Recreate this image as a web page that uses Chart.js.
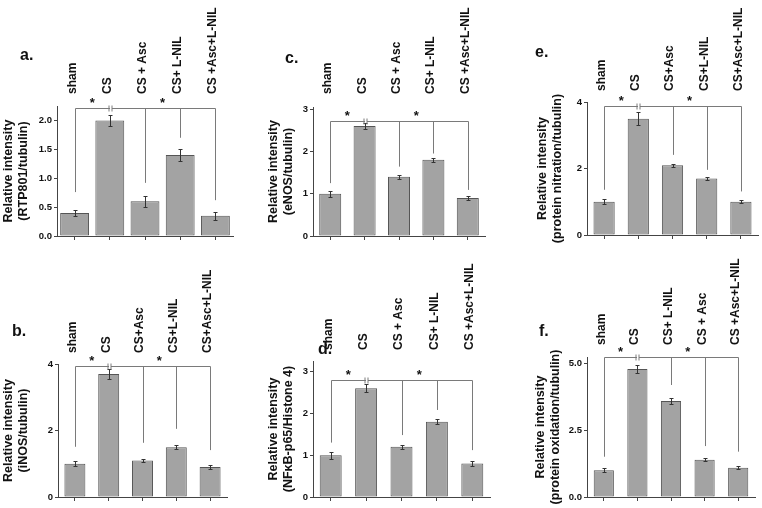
<!DOCTYPE html>
<html><head><meta charset="utf-8">
<script src="https://cdn.jsdelivr.net/npm/chart.js@4.4.1/dist/chart.umd.min.js"></script>
<style>
html,body{margin:0;padding:0;background:#fff}
body{width:762px;height:508px;position:relative;overflow:hidden}
canvas{position:absolute}
</style></head>
<body>
<script>
// ---------- data ----------
const catsA = ['sham','CS','CS + Asc','CS+ L-NIL','CS +Asc+L-NIL'];
const valsA = [0.4, 2.0, 0.6, 1.4, 0.35];
const errsA = [0.05, 0.1, 0.09, 0.1, 0.07];
const dropA = [0.76, null, 0.92, 1.70, 0.62];
const bracketA = 2.22;
const ticksA = [0, 0.5, 1, 1.5, 2];
const tickLabelsA = ['0.0','0.5','1.0','1.5','2.0'];
const titleA = ['Relative intensity','(RTP801/tubulin)'];

const catsB = ['sham','CS','CS+Asc','CS+L-NIL','CS+Asc+L-NIL'];
const valsB = [1.0, 3.7, 1.1, 1.5, 0.9];
const errsB = [0.07, 0.15, 0.05, 0.05, 0.05];
const dropB = [1.51, null, 1.63, 2.05, 1.41];
const bracketB = 3.95;
const ticksB = [0, 2, 4];
const tickLabelsB = ['0','2','4'];
const titleB = ['Relative intensity','(iNOS/tubulin)'];

const catsC = ['sham','CS','CS + Asc','CS+ L-NIL','CS +Asc+L-NIL'];
const valsC = [1.0, 2.6, 1.4, 1.8, 0.9];
const errsC = [0.07, 0.08, 0.05, 0.05, 0.05];
const dropC = [1.25, null, 1.64, 1.95, 1.09];
const bracketC = 2.72;
const ticksC = [0, 1, 2, 3];
const tickLabelsC = ['0','1','2','3'];
const titleC = ['Relative intensity','(eNOS/tubulin)'];

const catsD = ['sham','CS','CS + Asc','CS+ L-NIL','CS +Asc+L-NIL'];
const valsD = [1.0, 2.6, 1.2, 1.8, 0.8];
const errsD = [0.08, 0.1, 0.05, 0.06, 0.05];
const dropD = [1.30, null, 1.48, 2.08, 1.12];
const bracketD = 2.8;
const ticksD = [0, 1, 2, 3];
const tickLabelsD = ['0','1','2','3'];
const titleD = ['Relative intensity','(NF\u03BAB-p65/Histone 4)'];

const catsE = ['sham','CS','CS+Asc','CS+L-NIL','CS+Asc+L-NIL'];
const valsE = [1.0, 3.5, 2.1, 1.7, 1.0];
const errsE = [0.08, 0.2, 0.05, 0.05, 0.05];
const dropE = [1.36, null, 2.41, 1.96, 1.31];
const bracketE = 3.87;
const ticksE = [0, 2, 4];
const tickLabelsE = ['0','2','4'];
const titleE = ['Relative intensity','(protein nitration/tubulin)'];

const catsF = ['sham','CS','CS+ L-NIL','CS + Asc','CS +Asc+L-NIL'];
const valsF = [1.0, 4.8, 3.6, 1.4, 1.1];
const errsF = [0.08, 0.15, 0.12, 0.05, 0.05];
const dropF = [1.51, null, 4.2, 1.91, 1.70];
const bracketF = 5.24;
const ticksF = [0, 2.5, 5];
const tickLabelsF = ['0.0','2.5','5.0'];
const titleF = ['Relative intensity','(protein oxidation/tubulin)'];

// ---------- styling / layout ----------
const FAMILY = "'Liberation Sans', Arial, Helvetica, sans-serif";
Chart.defaults.font.family = FAMILY;
Chart.defaults.color = '#111';

const annot = {
  id: 'annot',
  afterDatasetsDraw(chart, args, o) {
    const ctx = chart.ctx, xs = chart.scales.x, ys = chart.scales.y;
    const ds = chart.data.datasets[0];
    const vals = ds.data, errs = o.errors, n = vals.length;
    const px = i => Math.round(xs.getPixelForValue(i)) + 0.5;
    const line = (x1,y1,x2,y2) => { ctx.beginPath(); ctx.moveTo(x1,y1); ctx.lineTo(x2,y2); ctx.stroke(); };
    ctx.save();
    // error bars
    ctx.strokeStyle = '#333'; ctx.lineWidth = 1;
    vals.forEach((v,i) => {
      const x = px(i);
      const t = Math.round(ys.getPixelForValue(v + errs[i])) + 0.5;
      const b = Math.round(ys.getPixelForValue(v - errs[i])) + 0.5;
      line(x, t, x, b); line(x-2, t, x+2, t); line(x-2, b, x+2, b);
    });
    // significance bracket
    const by = Math.round(ys.getPixelForValue(o.bracket)) + 0.5;
    ctx.strokeStyle = '#7a7a7a';
    line(px(0), by, px(n-1), by);
    o.drops.forEach((d,i) => {
      if (d == null) return;
      line(px(i), by, px(i), ys.getPixelForValue(d));
    });
    // break mark on CS
    const cx = px(1);
    ctx.clearRect(cx-1, by-1.5, 2, 3);
    line(cx-1.5, by-3, cx-1.5, by+3);
    line(cx+1.5, by-3, cx+1.5, by+3);
    // stars
    ctx.fillStyle = '#111';
    ctx.font = "bold 13px " + FAMILY;
    ctx.textAlign = 'center'; ctx.textBaseline = 'alphabetic';
    [[0,1],[2,3]].forEach(([a,b]) => {
      ctx.fillText('*', (xs.getPixelForValue(a) + xs.getPixelForValue(b))/2, by - 2);
    });
    // panel letter
    ctx.font = "bold 16px " + FAMILY;
    ctx.textAlign = 'left';
    ctx.fillText(o.letter, o.lx, o.ly);
    ctx.restore();
  }
};

function panel(p) {
  const cv = document.createElement('canvas');
  cv.width = p.w; cv.height = p.h;
  cv.style.left = p.left + 'px'; cv.style.top = p.top + 'px';
  cv.style.width = p.w + 'px'; cv.style.height = p.h + 'px';
  document.body.appendChild(cv);
  new Chart(cv, {
    type: 'bar',
    data: {
      labels: p.cats,
      datasets: [{
        data: p.vals,
        backgroundColor: '#a3a3a3',
        borderColor: '#555',
        borderWidth: 1,
        borderSkipped: false,
        barPercentage: p.bar,
        categoryPercentage: 1
      }]
    },
    options: {
      responsive: false, animation: false, devicePixelRatio: 1,
      layout: { padding: { left: 0, top: 0, right: p.padR, bottom: 0 } },
      plugins: {
        legend: { display: false }, tooltip: { enabled: false },
        annot: { errors: p.errs, drops: p.drops, bracket: p.bracket, letter: p.letter, lx: p.lx, ly: p.ly }
      },
      scales: {
        x: {
          type: 'category', position: 'bottom', offset: true,
          grid: { display: true, drawOnChartArea: false, offset: false, tickLength: 4, color: '#444' },
          border: { display: true, color: '#444', width: 1 },
          ticks: { display: false },
          afterFit: s => { s.height = p.botH; }
        },
        xt: {
          type: 'category', position: 'top', offset: true, labels: p.cats,
          grid: { display: false, drawTicks: false },
          border: { display: false },
          ticks: { minRotation: 90, maxRotation: 90, autoSkip: false, padding: p.labPad,
                   labelOffset: 12,
                   font: { size: 12, weight: 'bold' }, color: '#111' },
          afterFit: s => { s.height = p.topH; }
        },
        y: {
          min: 0, max: p.max,
          afterBuildTicks: s => { s.ticks = p.ticks.map(v => ({ value: v })); },
          ticks: { callback: (v, i) => p.tickLabels[i], padding: 2,
                   font: { size: 9.5, weight: 'bold' }, color: '#111' },
          grid: { display: true, drawOnChartArea: false, tickLength: 3, color: '#444' },
          border: { display: true, color: '#444', width: 1 },
          title: { display: true, text: p.title, color: '#111',
                   font: { size: 12.5, weight: 'bold' }, padding: { top: p.titlePad, bottom: 0 } },
          afterFit: s => { s.width = p.yW; }
        }
      }
    },
    plugins: [annot]
  });
}

panel({ left: 0, top: 0, w: 250, h: 250, yW: 57, topH: 106, botH: 14, padR: 17, bar: 0.82,
  max: 2.25, labPad: 12, titlePad: 1.5, letter: 'a.', lx: 20, ly: 60,
  cats: catsA, vals: valsA, errs: errsA, drops: dropA, bracket: bracketA,
  ticks: ticksA, tickLabels: tickLabelsA, title: titleA });

panel({ left: 250, top: 0, w: 250, h: 250, yW: 63, topH: 107, botH: 14, padR: 15, bar: 0.64,
  max: 3.05, labPad: 13, titlePad: 16, letter: 'c.', lx: 35, ly: 63,
  cats: catsC, vals: valsC, errs: errsC, drops: dropC, bracket: bracketC,
  ticks: ticksC, tickLabels: tickLabelsC, title: titleC });

panel({ left: 500, top: 0, w: 262, h: 250, yW: 87, topH: 102, botH: 15, padR: 4, bar: 0.62,
  max: 4.0, labPad: 11, titlePad: 35, letter: 'e.', lx: 35, ly: 57,
  cats: catsE, vals: valsE, errs: errsE, drops: dropE, bracket: bracketE,
  ticks: ticksE, tickLabels: tickLabelsE, title: titleE });

panel({ left: 0, top: 250, w: 250, h: 258, yW: 58, topH: 114, botH: 11, padR: 23, bar: 0.62,
  max: 4.0, labPad: 11, titlePad: 1.5, letter: 'b.', lx: 12, ly: 86,
  cats: catsB, vals: valsB, errs: errsB, drops: dropB, bracket: bracketB,
  ticks: ticksB, tickLabels: tickLabelsB, title: titleB });

panel({ left: 250, top: 250, w: 250, h: 258, yW: 63, topH: 111, botH: 11, padR: 10, bar: 0.62,
  max: 3.25, labPad: 11, titlePad: 16.5, letter: 'd.', lx: 68, ly: 104,
  cats: catsD, vals: valsD, errs: errsD, drops: dropD, bracket: bracketD,
  ticks: ticksD, tickLabels: tickLabelsD, title: titleD });

panel({ left: 500, top: 250, w: 262, h: 258, yW: 87, topH: 107, botH: 11, padR: 7, bar: 0.6,
  max: 5.25, labPad: 12, titlePad: 33.5, letter: 'f.', lx: 39, ly: 86,
  cats: catsF, vals: valsF, errs: errsF, drops: dropF, bracket: bracketF,
  ticks: ticksF, tickLabels: tickLabelsF, title: titleF });
</script>
</body></html>
